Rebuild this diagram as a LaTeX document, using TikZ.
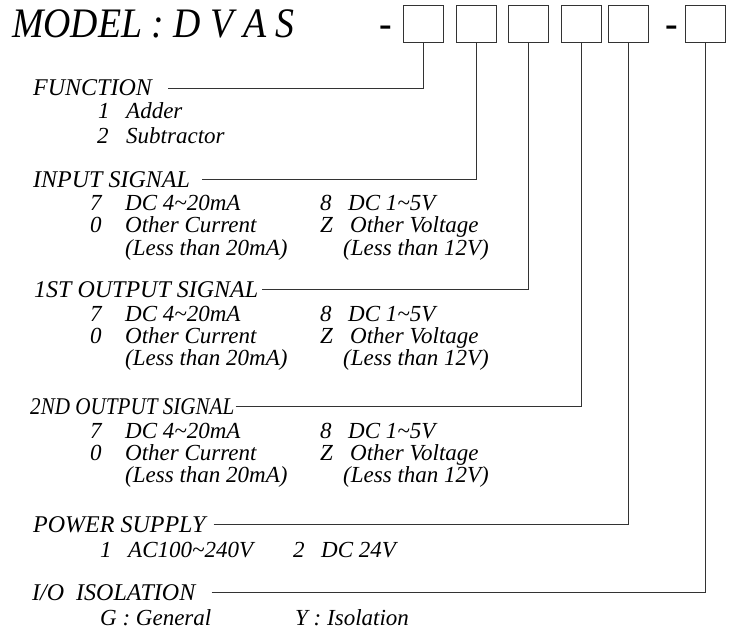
\documentclass[tikz,border=0pt]{standalone}
\usepackage{fontspec}
\setmainfont{Liberation Serif}

\begin{document}
\begin{tikzpicture}[x=1pt, y=-1pt,
  title/.style={font=\fontsize{42}{42}\selectfont\itshape, inner sep=0pt},
  slot/.style={draw=black!80, line width=0.8pt, minimum width=40pt, minimum height=37pt, inner sep=0pt},
  head/.style={font=\fontsize{#1}{#1}\selectfont\itshape, anchor=base west, inner xsep=4pt, inner ysep=0pt},
  head/.default=24,
  item/.style={font=\fontsize{23}{23}\selectfont\itshape, anchor=base west, inner sep=0pt},
  lead/.style={draw=black!80, line width=0.7pt}]
\useasboundingbox (0,0) rectangle (733,631);

% model code and its slots
\node[title, anchor=base west] (model) at (12,38) {\scalebox{0.9}[1]{MODEL : D V A S}};
\node[title, anchor=base] (dash1) at (386,38) {\scalebox{0.9}[1]{-}};
\node[slot] (func) at (423,23.5) {};
\node[slot] (insig) at (476,23.5) {};
\node[slot] (outa) at (528.5,23.5) {};
\node[slot] (outb) at (581.5,23.5) {};
\node[slot] (power) at (628,23.5) {};
\node[title, anchor=base] (dash2) at (672,38) {\scalebox{0.9}[1]{-}};
\node[slot] (iso) at (705.5,23.5) {};

% function
\node[head] (funch) at (29,96) {FUNCTION};
\node[item] (fn1) at (98,119) {1};
\node[item] (fn1t) at (126,119) {Adder};
\node[item] (fn2) at (97,144) {2};
\node[item] (fn2t) at (126,144) {Subtractor};

% input signal
\node[head] (inh) at (29,187) {INPUT SIGNAL};
\node[item] (in7) at (90,211) {7};
\node[item] (in7t) at (125,211) {DC 4\textasciitilde20mA};
\node[item] (in0) at (90,233) {0};
\node[item] (in0t) at (125,233) {Other Current};
\node[item] (in0n) at (125,255) {(Less than 20mA)};
\node[item] (in8) at (320,211) {8};
\node[item] (in8t) at (348,211) {DC 1\textasciitilde5V};
\node[item] (inz) at (320,233) {Z};
\node[item] (inzt) at (350,233) {Other Voltage};
\node[item] (inzn) at (343,255) {(Less than 12V)};

% 1st output signal
\node[head] (oah) at (30,297) {1ST OUTPUT SIGNAL};
\node[item] (oa7) at (90,321) {7};
\node[item] (oa7t) at (125,321) {DC 4\textasciitilde20mA};
\node[item] (oa0) at (90,343) {0};
\node[item] (oa0t) at (125,343) {Other Current};
\node[item] (oa0n) at (125,365) {(Less than 20mA)};
\node[item] (oa8) at (320,321) {8};
\node[item] (oa8t) at (348,321) {DC 1\textasciitilde5V};
\node[item] (oaz) at (320,343) {Z};
\node[item] (oazt) at (350,343) {Other Voltage};
\node[item] (oazn) at (343,365) {(Less than 12V)};

% 2nd output signal
\node[head, inner xsep=1pt] (obh) at (29,414) {\scalebox{0.88}[1]{2ND OUTPUT SIGNAL}};
\node[item] (ob7) at (90,438) {7};
\node[item] (ob7t) at (125,438) {DC 4\textasciitilde20mA};
\node[item] (ob0) at (90,460) {0};
\node[item] (ob0t) at (125,460) {Other Current};
\node[item] (ob0n) at (125,482) {(Less than 20mA)};
\node[item] (ob8) at (320,438) {8};
\node[item] (ob8t) at (348,438) {DC 1\textasciitilde5V};
\node[item] (obz) at (320,460) {Z};
\node[item] (obzt) at (350,460) {Other Voltage};
\node[item] (obzn) at (343,482) {(Less than 12V)};

% power supply
\node[head] (pwh) at (29,532) {POWER SUPPLY};
\node[item] (pw1) at (100,557) {1};
\node[item] (pw1t) at (128,557) {AC100\textasciitilde240V};
\node[item] (pw2) at (293,557) {2};
\node[item] (pw2t) at (321,557) {DC 24V};

% isolation
\node[head] (isoh) at (28,600) {I/O\enspace ISOLATION};
\node[item] (isog) at (100,625) {G : General};
\node[item] (isoy) at (295,625) {Y : Isolation};

% leads
\draw[lead] ([xshift=12pt]funch.east) -| (func.south);
\draw[lead] ([xshift=8pt]inh.east) -| (insig.south);
\draw[lead] (oah.east) -| (outa.south);
\draw[lead] (obh.east) -| (outb.south);
\draw[lead] ([xshift=4pt]pwh.east) -| (power.south);
\draw[lead] ([xshift=12pt]isoh.east) -| (iso.south);
\end{tikzpicture}
\end{document}
